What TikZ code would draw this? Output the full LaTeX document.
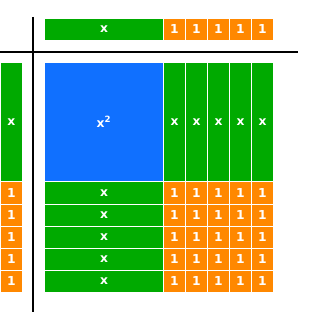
\documentclass[tikz,border=0pt]{standalone}
\usepackage{fontspec}
\newfontfamily\tilefont{DejaVu Sans}
\usetikzlibrary{positioning}
\definecolor{TileGreen}{RGB}{0,170,0}
\definecolor{TileBlue}{RGB}{16,112,255}
\definecolor{TileOrange}{RGB}{255,136,0}
\tikzset{
  tile/.style={inner sep=0pt,text=white,font=\tilefont\bfseries\fontsize{10.5}{12}\selectfont},
  unit/.style={tile,fill=TileOrange,minimum width=0.63cm,minimum height=0.63cm},
  hbar/.style={tile,fill=TileGreen,minimum width=3.54cm,minimum height=0.63cm},
  vbar/.style={tile,fill=TileGreen,minimum width=0.63cm,minimum height=3.54cm},
  square/.style={tile,fill=TileBlue,minimum width=3.54cm,minimum height=3.54cm},
  axis/.style={draw=black,line width=1.2pt},
}
\begin{document}
\begin{tikzpicture}[x=0.03cm,y=-0.03cm]
  \useasboundingbox (0,0) rectangle (333,312);

  % axes
  \coordinate (hl) at (0,52);
  \coordinate (hr) at (298,52);
  \coordinate (vt) at (33,17);
  \coordinate (vb) at (33,312);
  \draw[axis] (hl)--(hr);
  \draw[axis] (vt)--(vb);

  % top factor
  \node[hbar] (topx) at (104,29.5) {x};
  \foreach \i in {1,...,5}
    \node[unit] (top\i) at (152.5+22*\i,29.5) {1};

  % left factor
  \node[vbar] (leftx) at (11.3,122) {x};
  \foreach \j in {1,...,5}
    \node[unit] (left\j) at (11.3,171+22*\j) {1};

  % product
  \node[square] (sq) at (104,122) {x\textsuperscript{2}};
  \foreach \i in {1,...,5}
    \node[vbar] (col\i) at (152.5+22*\i,122) {x};
  \foreach \j in {1,...,5}
    \node[hbar] (row\j) at (104,171+22*\j) {x};
  \foreach \i in {1,...,5}
    \foreach \j in {1,...,5}
      \node[unit] (u\i\j) at (152.5+22*\i,171+22*\j) {1};
\end{tikzpicture}
\end{document}
